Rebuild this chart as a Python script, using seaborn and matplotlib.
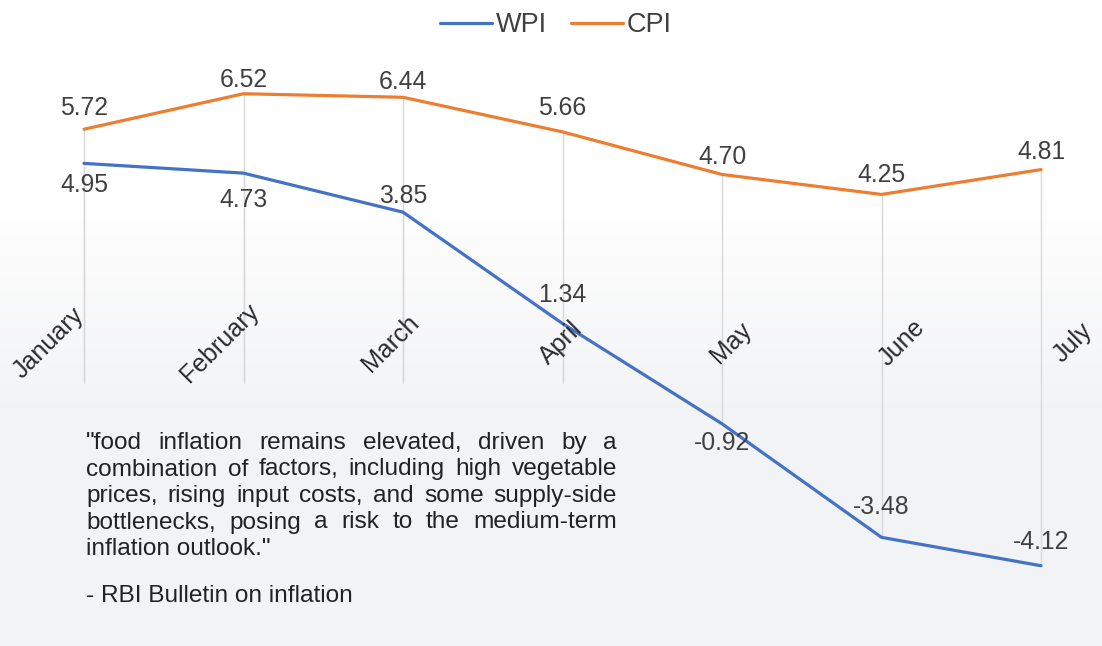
import numpy as np
import pandas as pd
import matplotlib.pyplot as plt
import seaborn as sns

# Data
months = ['January', 'February', 'March', 'April', 'May', 'June', 'July']
wpi = [4.95, 4.73, 3.85, 1.34, -0.92, -3.48, -4.12]
cpi = [5.72, 6.52, 6.44, 5.66, 4.70, 4.25, 4.81]
series_names = ['WPI', 'CPI']
quote_lines = [
    '"food inflation remains elevated, driven by a',
    'combination of factors, including high vegetable',
    'prices, rising input costs, and some supply-side',
    'bottlenecks, posing a risk to the medium-term',
    'inflation outlook."',
]
source_line = '- RBI Bulletin on inflation'

df = pd.DataFrame({
    'Month': months * 2,
    'Index': ['WPI'] * len(months) + ['CPI'] * len(months),
    'Value': wpi + cpi,
})

W, H = 1102, 646
sns.set_theme(style='white')
plt.rcParams['font.family'] = ['Liberation Sans', 'DejaVu Sans']
text_color = '#404040'
colors = {'WPI': '#4472C4', 'CPI': '#ED7D31'}

fig = plt.figure(figsize=(W / 100, H / 100), dpi=100)

# soft grey background towards the bottom
bg = fig.add_axes([0, 0, 1, 1], zorder=-10)
bg.axis('off')
rows = np.arange(H)
t = np.clip((rows - 200) / 220, 0, 1)[:, None]
top_c = np.array([1.0, 1.0, 1.0])
bot_c = np.array([0xf2, 0xf3, 0xf5]) / 255
grad = (top_c * (1 - t) + bot_c * t)[:, None, :]
bg.imshow(grad, aspect='auto', extent=[0, 1, 0, 1])

ax = fig.add_axes([0.0328, 0.0638, 0.9553, 0.8378])
ax.patch.set_alpha(0)

# drop lines from each point to the axis
ax.vlines(range(len(months)), 0, cpi, color='#d9d9d9', lw=1, zorder=1)
ax.vlines(range(len(months)), 0, wpi, color='#d9d9d9', lw=1, zorder=1)

sns.lineplot(data=df, x='Month', y='Value', hue='Index', hue_order=series_names,
             palette=colors, linewidth=2.3, ax=ax, zorder=3, sort=False)

ax.set_xlim(-0.3, 6.3)
ax.set_ylim(-5, 7.2)
ax.set_xticks([])
ax.set_yticks([])
ax.set_xlabel('')
ax.set_ylabel('')
for s in ax.spines.values():
    s.set_visible(False)

# data labels
cpi_dy = [21, 14, 15, 24, 17, 19, 18]
wpi_dy = [-22, -27, 16, 29, -19, 30, 24]
for i, v in enumerate(cpi):
    ax.annotate(f'{v:.2f}', (i, v), xytext=(0, cpi_dy[i]), textcoords='offset pixels',
                ha='center', va='center', fontsize=17.8, color=text_color, zorder=4)
for i, v in enumerate(wpi):
    ax.annotate(f'{v:.2f}', (i, v), xytext=(0, wpi_dy[i]), textcoords='offset pixels',
                ha='center', va='center', fontsize=17.8, color=text_color, zorder=4)

# month labels, rotated, sitting just above the zero line
for i, m in enumerate(months):
    ax.text(i * 1.07 - 0.22, 0.9, m, rotation=45, rotation_mode='anchor',
            ha='center', va='center', fontsize=18, color='#2b2b2b', zorder=4)

# legend at top
handles, labels = ax.get_legend_handles_labels()
ax.get_legend().remove()
fig.legend(handles, labels, loc='center', bbox_to_anchor=(556 / W, 1 - 25 / H),
           ncol=2, frameon=False, fontsize=19.5, handlelength=1.9,
           columnspacing=0.9, handletextpad=0.15, labelcolor=text_color)

# justified quote
renderer = fig.canvas.get_renderer()
x0, x1 = 86, 617
qstyle = dict(fontsize=17.6, color='#222222', va='center', ha='left')
for k, line in enumerate(quote_lines):
    y = 1 - (443 + 26.5 * k) / H
    if k == len(quote_lines) - 1:
        fig.text(x0 / W, y, line, **qstyle)
        continue
    words = line.split()
    texts = [fig.text(0, y, w, **qstyle) for w in words]
    widths = [tx.get_window_extent(renderer).width for tx in texts]
    gap = (x1 - x0 - sum(widths)) / (len(words) - 1)
    x = x0
    for tx, w in zip(texts, widths):
        tx.set_x(x / W)
        x += w + gap
fig.text(x0 / W, 1 - 596 / H, source_line, **qstyle)

fig.savefig('out.png', dpi=100)
